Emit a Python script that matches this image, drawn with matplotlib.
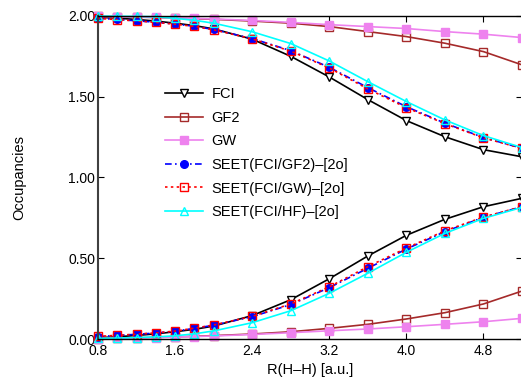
import matplotlib
matplotlib.use("Agg")
import matplotlib.pyplot as plt
from matplotlib.ticker import FormatStrFormatter

plt.rcParams['font.family'] = ['Liberation Sans', 'DejaVu Sans']

x = [0.8, 1.0, 1.2, 1.4, 1.6, 1.8, 2.0, 2.4, 2.8, 3.2, 3.6, 4.0, 4.4, 4.8, 5.2]

fci_hi = [1.992, 1.986, 1.978, 1.968, 1.955, 1.940, 1.920, 1.856, 1.750, 1.622, 1.482, 1.352, 1.252, 1.172, 1.128]
fci_lo = [0.008, 0.014, 0.022, 0.032, 0.045, 0.060, 0.080, 0.145, 0.243, 0.373, 0.514, 0.642, 0.741, 0.819, 0.871]

gf2_hi = [1.997, 1.995, 1.993, 1.990, 1.987, 1.983, 1.979, 1.968, 1.955, 1.934, 1.903, 1.872, 1.831, 1.779, 1.697]
gf2_lo = [0.003, 0.005, 0.007, 0.010, 0.013, 0.017, 0.021, 0.031, 0.045, 0.066, 0.091, 0.124, 0.163, 0.217, 0.297]

gw_hi = [1.997, 1.995, 1.993, 1.991, 1.988, 1.985, 1.981, 1.972, 1.960, 1.946, 1.934, 1.922, 1.903, 1.887, 1.866]
gw_lo = [0.003, 0.005, 0.007, 0.009, 0.012, 0.015, 0.019, 0.028, 0.039, 0.051, 0.062, 0.076, 0.091, 0.107, 0.128]

seet_gf2_hi = [1.986, 1.978, 1.970, 1.961, 1.950, 1.936, 1.916, 1.860, 1.785, 1.682, 1.556, 1.438, 1.336, 1.247, 1.181]
seet_gf2_lo = [0.015, 0.022, 0.029, 0.037, 0.048, 0.066, 0.085, 0.138, 0.213, 0.318, 0.438, 0.557, 0.665, 0.753, 0.819]

seet_gw_hi = [1.985, 1.977, 1.969, 1.960, 1.949, 1.935, 1.914, 1.858, 1.782, 1.678, 1.548, 1.432, 1.333, 1.245, 1.180]
seet_gw_lo = [0.016, 0.023, 0.030, 0.038, 0.049, 0.067, 0.087, 0.140, 0.217, 0.323, 0.448, 0.563, 0.670, 0.755, 0.820]

seet_hf_hi = [1.999, 1.998, 1.997, 1.995, 1.985, 1.973, 1.955, 1.902, 1.829, 1.721, 1.593, 1.470, 1.356, 1.259, 1.185]
seet_hf_lo = [0.004, 0.006, 0.009, 0.013, 0.020, 0.032, 0.050, 0.101, 0.175, 0.283, 0.407, 0.537, 0.654, 0.747, 0.815]

labels = ["FCI", "GF2", "GW", "SEET(FCI/GF2)\u2013[2o]", "SEET(FCI/GW)\u2013[2o]", "SEET(FCI/HF)\u2013[2o]"]
xticks = [0.8, 1.6, 2.4, 3.2, 4.0, 4.8]
yticks = [0.0, 0.5, 1.0, 1.5, 2.0]

series = [
    (fci_hi, fci_lo, dict(color='black', marker='v', mfc='white', ls='-')),
    (gf2_hi, gf2_lo, dict(color='#a52a2a', marker='s', mfc='none', ls='-')),
    (gw_hi, gw_lo, dict(color='#ee82ee', marker='s', mfc='#ee82ee', ls='-')),
    (seet_gf2_hi, seet_gf2_lo, dict(color='blue', marker='o', mfc='blue', ls=(0, (4, 2, 1, 2)))),
    (seet_gw_hi, seet_gw_lo, dict(color='red', marker='s', mfc='none', ls=(0, (1.5, 2)))),
    (seet_hf_hi, seet_hf_lo, dict(color='cyan', marker='^', mfc='none', ls='-')),
]

fig = plt.figure(figsize=(5.21, 3.79), dpi=100)
ax = fig.add_axes([0.188, 0.1055, 0.814, 0.8525])

for (hi, lo, st), lab in zip(series, labels):
    kw = dict(color=st['color'], marker=st['marker'], mfc=st['mfc'], mec=st['color'],
              ls=st['ls'], lw=1.2, ms=5.5, mew=1.0, clip_on=False)
    ax.plot(x, hi, label=lab, **kw)
    ax.plot(x, lo, **kw)

ax.set_xlim(0.8, 5.2)
ax.set_ylim(0.0, 2.0)
ax.set_xticks(xticks)
ax.set_yticks(yticks)
ax.xaxis.set_major_formatter(FormatStrFormatter('%.1f'))
ax.yaxis.set_major_formatter(FormatStrFormatter('%.2f'))
ax.tick_params(direction='in', top=True, right=True, length=4, width=0.8, labelsize=10, pad=2)
ax.tick_params(axis='x', pad=3.5)
ax.set_xlabel("R(H\u2013H) [a.u.]", fontsize=10.5, labelpad=3.5)
ax.set_ylabel("Occupancies", fontsize=10.5, labelpad=30)

for s in ['top', 'bottom', 'right']:
    ax.spines[s].set_linewidth(1.0)
    ax.spines[s].set_color('black')
ax.spines['left'].set_linewidth(1.5)
ax.spines['left'].set_color('#404040')

ax.legend(loc='upper left', bbox_to_anchor=(0.144, 0.798), frameon=False, fontsize=10.5,
          handlelength=2.6, handletextpad=0.6, labelspacing=0.66, borderaxespad=0)

fig.savefig("out.png", dpi=100)
